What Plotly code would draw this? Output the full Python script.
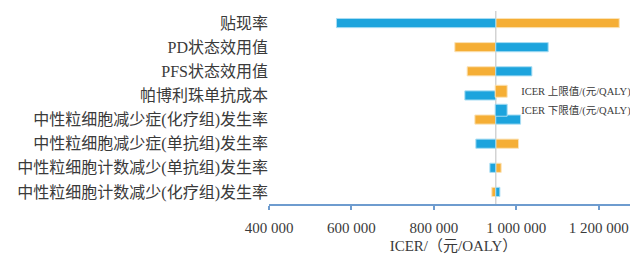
import plotly.graph_objects as go

categories = ["贴现率", "PD状态效用值", "PFS状态效用值", "帕博利珠单抗成本",
              "中性粒细胞减少症(化疗组)发生率", "中性粒细胞减少症(单抗组)发生率",
              "中性粒细胞计数减少(单抗组)发生率", "中性粒细胞计数减少(化疗组)发生率"]
base_icer = 950000
icer_upper = [1249500, 850700, 880600, 950000, 899300, 1005300, 963100, 940500]
icer_lower = [563600, 1077200, 1037600, 875000, 1010200, 901700, 935700, 960000]
x_ticks = [400000, 600000, 800000, 1000000, 1200000]
x_tick_labels = ["400 000", "600 000", "800 000", "1 000 000", "1 200 000"]

FONT = "Liberation Serif, Times New Roman, Noto Sans CJK SC"

fig = go.Figure()
fig.add_trace(go.Bar(
    y=categories, x=[v - base_icer for v in icer_upper], base=base_icer,
    orientation="h", name="ICER 上限值/(元/QALY)",
    marker=dict(color="#F5AE35", line=dict(color="#FBE3B8", width=1)), width=0.38))
fig.add_trace(go.Bar(
    y=categories, x=[v - base_icer for v in icer_lower], base=base_icer,
    orientation="h", name="ICER 下限值/(元/QALY)",
    marker=dict(color="#1DA4DD", line=dict(color="#A9DDF3", width=1)), width=0.38))

fig.add_shape(type="line", xref="x", yref="paper", x0=base_icer, x1=base_icer,
              y0=0, y1=1, line=dict(color="#D3D3D3", width=1.5), layer="below")

fig.update_layout(
    width=630, height=247, barmode="overlay",
    margin=dict(l=261, r=0, t=3, b=51, autoexpand=False),
    paper_bgcolor="white", plot_bgcolor="white",
    font=dict(family=FONT, color="#3a3a3a"),
    showlegend=True,
    legend=dict(x=0.575, y=0.535, xanchor="left", yanchor="middle",
                font=dict(size=10.5, family=FONT, color="#3a3a3a"),
                bgcolor="rgba(0,0,0,0)", tracegroupgap=0, itemwidth=30,
                traceorder="normal"),
    xaxis=dict(range=[400000, 1295000], tickvals=x_ticks, ticktext=x_tick_labels,
               automargin=False,
               showgrid=False, zeroline=False, showline=True,
               linecolor="#6E9CCF", linewidth=1.5, ticks="outside",
               tickcolor="#6E9CCF", ticklen=4, tickwidth=1.5,
               ticklabelstandoff=5,
               tickfont=dict(size=15, family=FONT, color="#3a3a3a"),
               title=dict(text="ICER/（元/OALY）", font=dict(size=15, family=FONT, color="#3a3a3a"),
                          standoff=6)),
    yaxis=dict(categoryorder="array", categoryarray=categories, autorange="reversed",
               automargin=False,
               showgrid=False, zeroline=False, showline=False, ticks="",
               ticklabelstandoff=0,
               tickfont=dict(size=16, family=FONT, color="#3a3a3a")),
)

fig.write_html("out.html")
